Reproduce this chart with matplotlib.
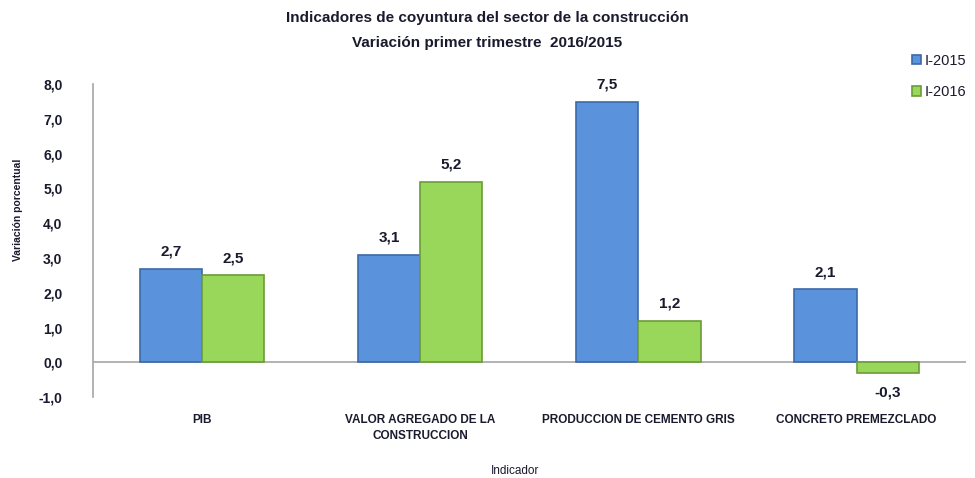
import matplotlib.pyplot as plt
import numpy as np

plt.rcParams['font.family'] = ['Liberation Sans Narrow', 'Liberation Sans', 'DejaVu Sans']

categories = ['PIB', 'VALOR AGREGADO DE LA\nCONSTRUCCION',
              'PRODUCCION DE CEMENTO GRIS', 'CONCRETO PREMEZCLADO']
i_2015 = [2.7, 3.1, 7.5, 2.1]
i_2016 = [2.5, 5.2, 1.2, -0.3]
yticks = [-1.0, 0.0, 1.0, 2.0, 3.0, 4.0, 5.0, 6.0, 7.0, 8.0]

text_color = '#1a1a2e'

fig = plt.figure(figsize=(9.75, 4.78), dpi=100)
ax = fig.add_axes([0.0954, 0.169, 0.895, 0.655])

x = np.arange(len(categories))
w = 0.285
b1 = ax.bar(x - w / 2, i_2015, w, color='#5a93db', edgecolor='#3c6aa8', linewidth=1.2,
            label='I-2015', zorder=3)
b2 = ax.bar(x + w / 2, i_2016, w, color='#98d75a', edgecolor='#6b9c38', linewidth=1.2,
            label='I-2016', zorder=3)

for bars, vals in ((b1, i_2015), (b2, i_2016)):
    for rect, v in zip(bars, vals):
        cx = rect.get_x() + rect.get_width() / 2
        if v >= 0:
            ax.text(cx, v + 0.28, f'{v:.1f}'.replace('.', ','), ha='center', va='bottom',
                    fontsize=11, fontweight='bold', color=text_color)
        else:
            ax.text(cx, v - 0.35, f'{v:.1f}'.replace('.', ','), ha='center', va='top',
                    fontsize=11, fontweight='bold', color=text_color)

ax.set_xlim(-0.5, len(categories) - 0.5)
ax.set_ylim(-1.0, 8.0)
ax.set_yticks(yticks)
ax.set_yticklabels([f'{t:.1f}'.replace('.', ',') for t in yticks],
                   fontsize=10, fontweight='bold', color=text_color)
ax.set_xticks(x)
ax.set_xticklabels(categories, fontsize=8.5, fontweight='bold', color=text_color,
                   linespacing=1.5)
ax.tick_params(axis='x', length=0, pad=12)
ax.tick_params(axis='y', length=0, pad=22)

ax.axhline(0, color='#a6a6a6', linewidth=1.2, zorder=2)
for side in ('top', 'right', 'bottom'):
    ax.spines[side].set_visible(False)
ax.spines['left'].set_color('#a6a6a6')
ax.spines['left'].set_linewidth(1.2)

fig.text(0.528, 1 - 471 / 478, 'Indicador', ha='center', va='center',
         fontsize=8.5, color=text_color)
fig.text(18 / 975, 1 - 210 / 478, 'Variación porcentual', ha='center', va='center',
         rotation=90, fontsize=7.5, fontweight='bold', color=text_color)

fig.text(0.5, 1 - 18 / 478, 'Indicadores de coyuntura del sector de la construcción',
         ha='center', va='center', fontsize=11, fontweight='bold', color=text_color)
fig.text(0.5, 1 - 43 / 478, 'Variación primer trimestre  2016/2015',
         ha='center', va='center', fontsize=11, fontweight='bold', color=text_color)

leg = fig.legend(handles=[b1, b2], loc='upper right', bbox_to_anchor=(1.005, 0.915),
                 frameon=False, fontsize=10.5, handlelength=0.6, handleheight=0.6,
                 handletextpad=0.3, labelspacing=1.2)
for t in leg.get_texts():
    t.set_color(text_color)

fig.savefig('out.png', dpi=100)
